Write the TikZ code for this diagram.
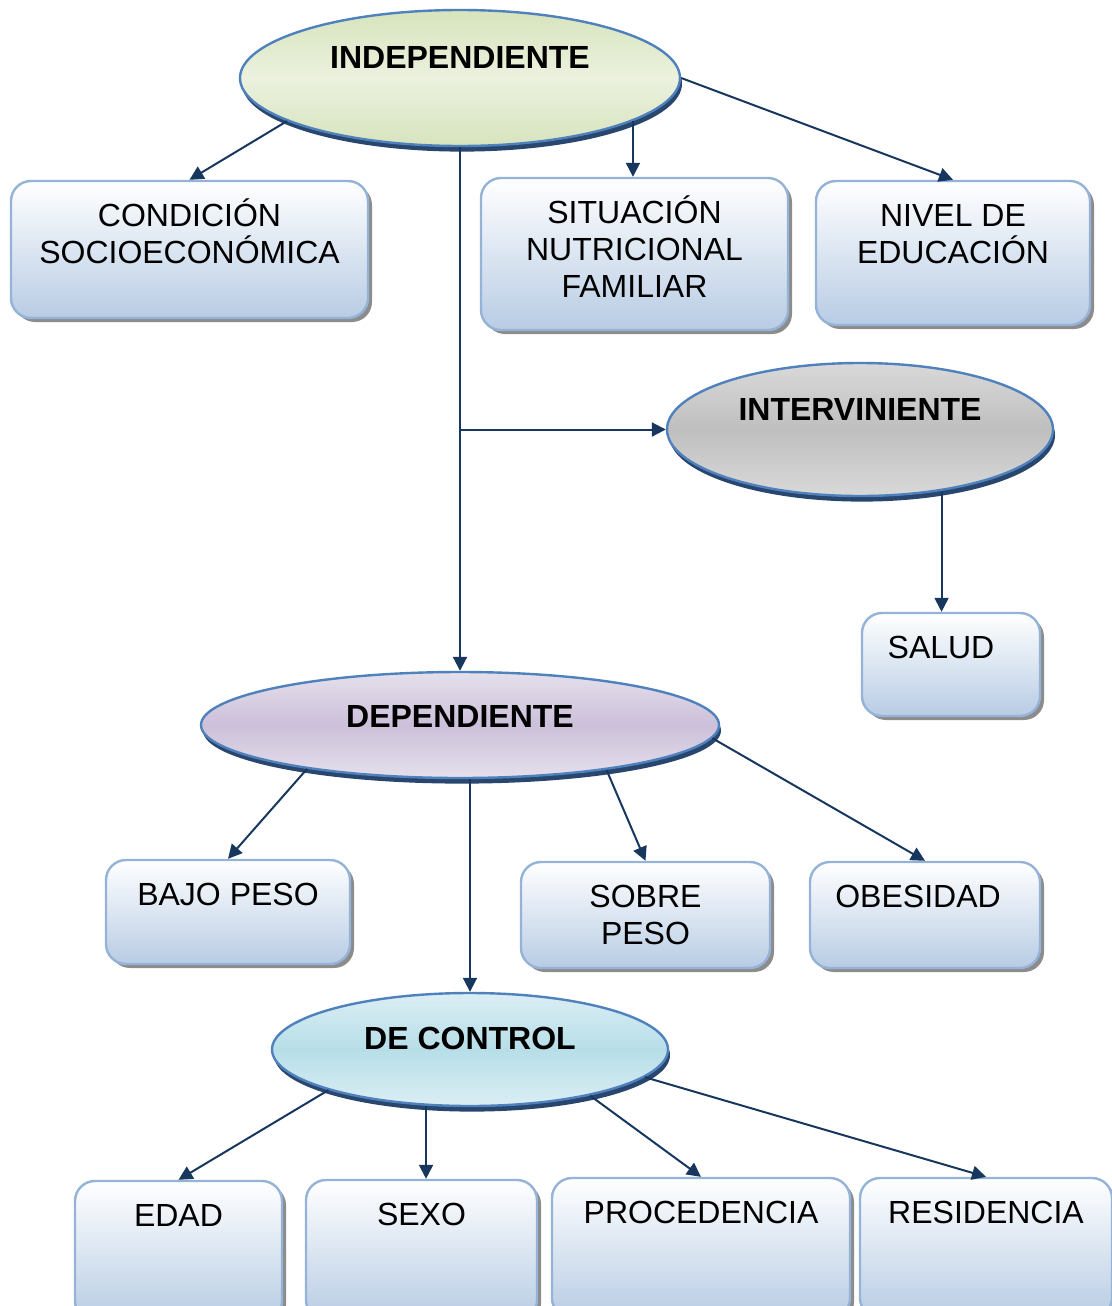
\documentclass[tikz,border=0pt]{standalone}
\usepackage{fontspec}
\setmainfont{Liberation Sans}
\usetikzlibrary{shapes.geometric, arrows.meta, shadows}
\definecolor{ellline}{RGB}{79, 129, 189}
\definecolor{ellshade}{RGB}{40, 70, 110}
\definecolor{boxline}{RGB}{149, 179, 215}
\definecolor{boxbottom}{RGB}{184, 204, 228}
\definecolor{arrowblue}{RGB}{23, 55, 94}
\definecolor{greenedge}{RGB}{215, 228, 189}
\definecolor{greenmid}{RGB}{235, 241, 222}
\definecolor{grayedge}{RGB}{217, 217, 217}
\definecolor{graymid}{RGB}{191, 191, 191}
\definecolor{purpleedge}{RGB}{229, 224, 236}
\definecolor{purplemid}{RGB}{204, 192, 218}
\definecolor{cyanedge}{RGB}{219, 238, 244}
\definecolor{cyanmid}{RGB}{183, 222, 232}

\begin{document}
\begin{tikzpicture}[
    x=0.5pt, y=-0.5pt,
    var/.style={ellipse, draw=ellline, line width=1.2pt, inner sep=0pt, text height=12pt, font=\fontsize{16}{18.5}\selectfont\bfseries, drop shadow={shadow xshift=1pt, shadow yshift=-2.8pt, fill=ellshade, opacity=1}},
    box/.style={draw=boxline, line width=1.2pt, rounded corners=10pt, top color=white, bottom color=boxbottom, inner xsep=4pt, inner ysep=5pt, text height=17.7pt, align=center, font=\fontsize{16}{18.5}\selectfont, drop shadow={shadow xshift=2pt, shadow yshift=-2pt, fill=black!45, opacity=1}},
    arrow/.style={-{Triangle[length=7pt, width=7pt]}, draw=arrowblue, line width=1pt}
]
\useasboundingbox (0,0) rectangle (1112,1306);
\clip (0,0) rectangle (1112,1306);

% variables
\node[var, top color=greenedge, bottom color=greenedge, middle color=greenmid, minimum width=220pt, minimum height=68pt, text depth=21.6pt] (indep) at (460,78) {INDEPENDIENTE};
\node[var, top color=grayedge, bottom color=grayedge, middle color=graymid, minimum width=193pt, minimum height=66.5pt, text depth=21.1pt] (inter) at (860,429.5) {INTERVINIENTE};
\node[var, top color=purpleedge, bottom color=purpleedge, middle color=purplemid, minimum width=259pt, minimum height=53pt, text depth=9.6pt] (dep) at (460,725) {DEPENDIENTE};
\node[var, top color=cyanedge, bottom color=cyanedge, middle color=cyanmid, minimum width=198pt, minimum height=56.5pt, text depth=12.1pt] (ctrl) at (470,1049.5) {DE CONTROL};

% indicators
\node[box, minimum width=178.5pt, text height=36.2pt, text depth=22.3pt] (cond) at (189.5,249.5) {CONDICIÓN\\SOCIOECONÓMICA};
\node[box, minimum width=153.5pt, text height=54.7pt, text depth=11.3pt] (sit) at (634.5,254) {SITUACIÓN\\NUTRICIONAL\\FAMILIAR};
\node[box, minimum width=137pt, text height=36.2pt, text depth=25.8pt] (niv) at (953,253) {NIVEL DE\\EDUCACIÓN};
\node[box, minimum width=89pt, text depth=23.8pt] (salud) at (951,664.5) {SALUD\hspace*{10pt}};
\node[box, minimum width=122pt, text depth=24.3pt] (bajo) at (228,912) {BAJO PESO};
\node[box, minimum width=124.5pt, text height=36.2pt, text depth=6.8pt] (sobre) at (645.5,915) {SOBRE\\PESO};
\node[box, minimum width=115pt, text depth=25.3pt] (obes) at (925,915) {OBESIDAD\hspace*{7pt}};
\node[box, minimum width=103.5pt, text depth=42.3pt] (edad) at (178.5,1251) {EDAD};
\node[box, minimum width=115.5pt, text depth=42.3pt] (sexo) at (421.5,1250) {SEXO};
\node[box, minimum width=149pt, text depth=42.3pt] (proc) at (701,1248) {PROCEDENCIA};
\node[box, minimum width=126pt, text depth=42.3pt] (res) at (986,1248) {RESIDENCIA};

% connectors
\draw[arrow] (indep.194) -- (cond.north);
\draw[arrow] (indep.-14) -- (indep.-14 |- sit.north);
\draw[arrow] (indep.east) -- (niv.north);
\draw[arrow] (indep.south) -- (dep.north);
\draw[arrow] (indep.south |- inter.west) -- (inter.west);
\draw[arrow] (inter.-37) -- (inter.-37 |- salud.north);
\draw[arrow] (dep.-164) -- (bajo.north);
\draw[arrow] (dep.-17) -- (sobre.north);
\draw[arrow] (dep.-3) -- (obes.north);
\draw[arrow] (dep.south -| ctrl.north) -- (ctrl.north);
\draw[arrow] (ctrl.-164) -- (edad.north);
\draw[arrow] (ctrl.-128) -- (ctrl.-128 |- sexo.north);
\draw[arrow] (ctrl.-21) -- (proc.north);
\draw[arrow] (ctrl.-9) -- (res.north);

\end{tikzpicture}
\end{document}
